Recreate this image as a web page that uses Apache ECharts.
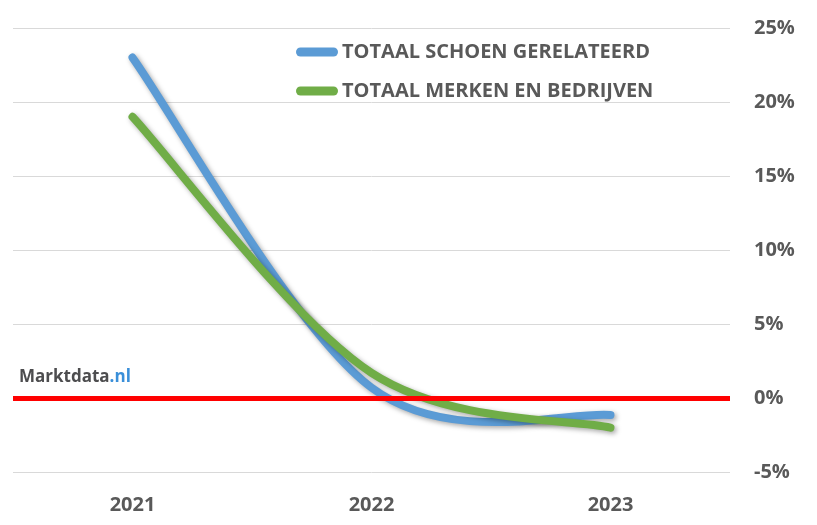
<!DOCTYPE html>
<html>
<head>
<meta charset="utf-8">
<script src="https://cdn.jsdelivr.net/npm/echarts@6/dist/echarts.min.js"></script>
<style>html,body{margin:0;padding:0;background:#fff}#c{width:817px;height:525px}</style>
</head>
<body>
<div id="c"></div>
<script>
var categories = ['2021', '2022', '2023'];
var schoenGerelateerd = [23.0, 0.7, -1.15];
var merkenBedrijven = [19.0, 1.7, -2.0];
var seriesNames = ['TOTAAL SCHOEN GERELATEERD', 'TOTAAL MERKEN EN BEDRIJVEN'];
var seriesColors = ['#5B9BD5', '#70AD47'];
var yTicks = { min: -5, max: 25, interval: 5 };

var FONT = '"Open Sans", "Noto Sans", sans-serif';
var TXT = '#595959';

function smoothRender(values, color) {
  return function (params, api) {
    if (params.dataIndex !== 0) return null;
    var pts = values.map(function (v, i) { return api.coord([i, v]); });
    var n = pts.length;
    var d = 'M' + pts[0][0] + ' ' + pts[0][1];
    for (var i = 0; i < n - 1; i++) {
      var p0 = pts[Math.max(i - 1, 0)], p1 = pts[i], p2 = pts[i + 1], p3 = pts[Math.min(i + 2, n - 1)];
      var c1x = p1[0] + (p2[0] - p0[0]) / 6, c1y = p1[1] + (p2[1] - p0[1]) / 6;
      var c2x = p2[0] - (p3[0] - p1[0]) / 6, c2y = p2[1] - (p3[1] - p1[1]) / 6;
      d += ' C' + c1x + ' ' + c1y + ' ' + c2x + ' ' + c2y + ' ' + p2[0] + ' ' + p2[1];
    }
    return {
      type: 'path',
      shape: { pathData: d },
      style: {
        fill: 'none', stroke: color, lineWidth: 8, lineCap: 'round', lineJoin: 'round',
        shadowBlur: 5, shadowColor: 'rgba(0,0,0,0.35)', shadowOffsetX: 2, shadowOffsetY: 2
      }
    };
  };
}

var chart = echarts.init(document.getElementById('c'));
chart.setOption({
  animation: false,
  grid: { left: 13, right: 87, top: 28, bottom: 53 },
  legend: {
    orient: 'vertical', left: 291, top: 37, itemGap: 19,
    itemWidth: 42, itemHeight: 9,
    icon: 'path://M4.5,0 L37.5,0 A4.5,4.5 0 0 1 37.5,9 L4.5,9 A4.5,4.5 0 0 1 4.5,0 Z',
    data: seriesNames,
    textStyle: { color: TXT, fontFamily: FONT, fontWeight: 'bold', fontSize: 20, padding: [0, 0, 0, -1] }
  },
  xAxis: {
    type: 'category', data: categories, boundaryGap: true,
    axisLine: { show: false }, axisTick: { show: false },
    axisLabel: { color: TXT, fontFamily: FONT, fontWeight: 'bold', fontSize: 20, margin: 23 }
  },
  yAxis: {
    type: 'value', position: 'right', min: yTicks.min, max: yTicks.max, interval: yTicks.interval,
    axisLine: { show: false }, axisTick: { show: false },
    axisLabel: { color: TXT, fontFamily: FONT, fontWeight: 'bold', fontSize: 20, margin: 24,
      formatter: function (v) { return v + '%'; } },
    splitLine: { lineStyle: { color: '#d9d9d9', width: 1 } }
  },
  graphic: [{
    type: 'text', left: 19, top: 369,
    style: {
      text: '{a|Marktdata}{b|.nl}',
      rich: {
        a: { fontFamily: FONT, fontWeight: 'bold', fontSize: 17, fill: '#4d4d4f' },
        b: { fontFamily: FONT, fontWeight: 'bold', fontSize: 17, fill: '#3a8fd9' }
      }
    }
  }],
  series: [
    {
      name: 'nul', type: 'line', data: [0, 0, 0], symbol: 'none', silent: true,
      lineStyle: { opacity: 0 }, z: 1,
      markLine: { silent: true, symbol: 'none', label: { show: false },
        lineStyle: { color: '#FF0000', width: 5, type: 'solid' },
        data: [{ yAxis: 0 }] }
    },
    {
      name: seriesNames[0], type: 'custom', clip: false, z: 3,
      itemStyle: { color: seriesColors[0] },
      data: schoenGerelateerd.map(function (v, i) { return [i, v]; }),
      encode: { x: 0, y: 1 },
      renderItem: smoothRender(schoenGerelateerd, seriesColors[0])
    },
    {
      name: seriesNames[1], type: 'custom', clip: false, z: 4,
      itemStyle: { color: seriesColors[1] },
      data: merkenBedrijven.map(function (v, i) { return [i, v]; }),
      encode: { x: 0, y: 1 },
      renderItem: smoothRender(merkenBedrijven, seriesColors[1])
    }
  ]
});
</script>
</body>
</html>
